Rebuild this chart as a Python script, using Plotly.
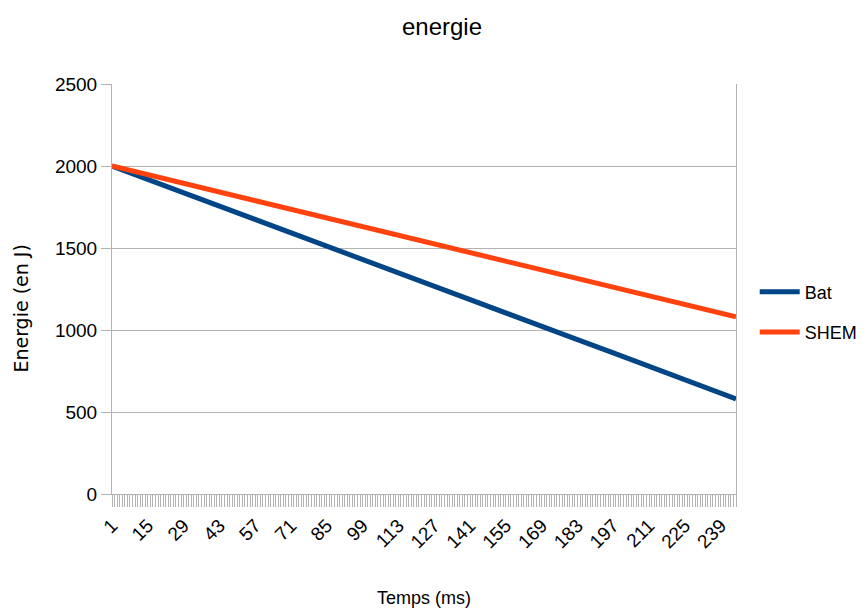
import plotly.graph_objects as go

# Values at the labelled tick positions (time in ms)
temps = [1, 15, 29, 43, 57, 71, 85, 99, 113, 127, 141, 155, 169, 183, 197, 211, 225, 239, 245]
bat = [2000, 1918, 1837, 1756, 1674, 1593, 1511, 1430, 1348, 1267, 1185, 1104, 1022, 941, 860, 778, 697, 615, 580]
shem = [2000, 1947, 1894, 1842, 1789, 1736, 1683, 1630, 1577, 1525, 1472, 1419, 1366, 1313, 1261, 1208, 1155, 1102, 1080]
tick_labels = [1, 15, 29, 43, 57, 71, 85, 99, 113, 127, 141, 155, 169, 183, 197, 211, 225, 239]

font = "Liberation Sans, Arial, sans-serif"
grid = "#b3b3b3"

fig = go.Figure()
fig.add_trace(go.Scatter(x=temps, y=bat, mode="lines", name="Bat", legendgroup="a",
                         line=dict(color="#004586", width=5)))
fig.add_trace(go.Scatter(x=temps, y=shem, mode="lines", name="SHEM", legendgroup="b",
                         line=dict(color="#ff420e", width=5)))

fig.update_layout(
    width=868, height=614,
    margin=dict(l=104, r=140, t=76, b=128),
    paper_bgcolor="white", plot_bgcolor="white",
    font=dict(family=font, color="#000000", size=18),
    title=dict(text="energie", x=0.5, xanchor="center", y=0.97, yanchor="middle",
               font=dict(size=24, family=font)),
    showlegend=True,
    legend=dict(x=1.03, xanchor="left", y=0.444, yanchor="middle",
                font=dict(size=18), itemwidth=40, tracegroupgap=14,
                bgcolor="rgba(0,0,0,0)"),
    xaxis=dict(
        range=[1, 245], tickmode="array", tickvals=tick_labels,
        ticktext=[str(v) for v in tick_labels], tickangle=-45,
        ticks="outside", ticklen=12, tickcolor=grid, tickwidth=1,
        minor=dict(dtick=1, tick0=1, ticks="outside", ticklen=12, tickcolor=grid, tickwidth=1),
        showgrid=False, zeroline=False,
        showline=True, linecolor=grid, linewidth=1,
        tickfont=dict(size=19),
        title=dict(text="Temps (ms)", font=dict(size=18), standoff=40),
    ),
    yaxis=dict(
        range=[0, 2500], dtick=500, tick0=0,
        ticks="outside", ticklen=10, tickcolor=grid,
        showgrid=True, gridcolor=grid, gridwidth=1,
        zeroline=False, showline=True, linecolor=grid, linewidth=1, mirror=True,
        tickfont=dict(size=19),
    ),
    annotations=[dict(
        text="Energie (en J)", textangle=-90, showarrow=False,
        xref="paper", yref="paper", x=-0.145, y=0.451,
        xanchor="center", yanchor="middle",
        font=dict(size=19, family="DejaVu Sans"),
    )],
)

fig.write_html("out.html")
